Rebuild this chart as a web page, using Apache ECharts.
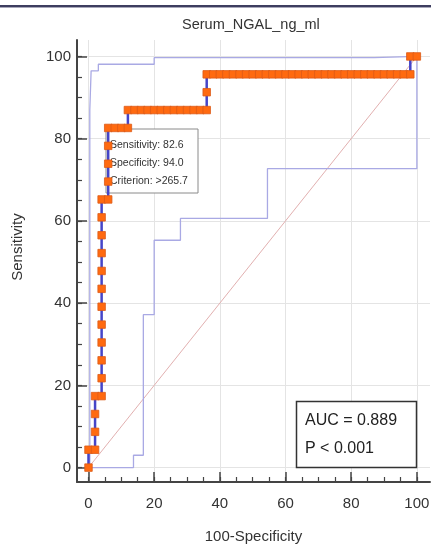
<!DOCTYPE html>
<html>
<head>
<meta charset="utf-8">
<script src="https://cdn.jsdelivr.net/npm/echarts@6/dist/echarts.min.js"></script>
<style>
  html, body { margin: 0; padding: 0; background: #fff; }
  #chart { width: 431px; height: 547px; }
</style>
</head>
<body>
<div id="chart"></div>
<script>
// ROC points (100-Specificity, Sensitivity), one square per cut-off
const rocX = [0, 0, 2, 2, 2, 2, 4, 4, 4, 4, 4, 4, 4, 4, 4, 4, 4, 4,
  6, 6, 6, 6, 6, 8, 10, 12, 12, 14, 16, 18, 20, 22, 24, 26, 28, 30, 32, 34, 36,
  36, 36, 38, 40, 42, 44, 46, 48, 50, 52, 54, 56, 58, 60, 62, 64, 66, 68, 70,
  72, 74, 76, 78, 80, 82, 84, 86, 88, 90, 92, 94, 96, 98, 98, 100];
const rocY = [0, 4.35, 4.35, 8.7, 13.04, 17.39, 17.39, 21.74, 26.09, 30.43, 34.78, 39.13,
  43.48, 47.83, 52.17, 56.52, 60.87, 65.22,
  65.22, 69.57, 73.91, 78.26, 82.61, 82.61, 82.61, 82.61, 86.96, 86.96, 86.96, 86.96,
  86.96, 86.96, 86.96, 86.96, 86.96, 86.96, 86.96, 86.96, 86.96,
  91.3, 95.65, 95.65, 95.65, 95.65, 95.65, 95.65, 95.65, 95.65, 95.65, 95.65, 95.65,
  95.65, 95.65, 95.65, 95.65, 95.65, 95.65, 95.65, 95.65, 95.65, 95.65, 95.65, 95.65,
  95.65, 95.65, 95.65, 95.65, 95.65, 95.65, 95.65, 95.65, 95.65, 100, 100];

// confidence bounds
const upperX = [0.4, 0.4, 0.8, 0.8, 3, 3, 20, 20, 87, 87, 100];
const upperY = [0, 87, 87, 96.5, 96.5, 98.1, 98.1, 99.7, 99.7, 100, 100];
const lowerX = [0, 13.7, 13.7, 16.7, 16.7, 20, 20, 28, 28, 54.5, 54.5, 100, 100];
const lowerY = [0, 0, 3, 3, 37.2, 37.2, 55.3, 55.3, 60.6, 60.6, 72.7, 72.7, 100];

const diagX = [0, 100];
const diagY = [0, 100];

const majorTicks = [0, 20, 40, 60, 80, 100];
const minorTicks = [0, 5, 10, 15, 20, 25, 30, 35, 40, 45, 50, 55, 60, 65, 70, 75, 80, 85, 90, 95, 100];

const infoLines = ["Sensitivity: 82.6", "Specificity: 94.0", "Criterion: >265.7"];
const aucLines = ["AUC = 0.889", "P < 0.001"];

const zip = (xs, ys) => xs.map((x, i) => [x, ys[i]]);

const font = "'Liberation Sans', Arial, sans-serif";
const axisColor = "#444";

function mainAxis(name, gap) {
  return {
    type: "value",
    min: -3.5,
    max: 104,
    name: name,
    nameLocation: "middle",
    nameGap: gap,
    nameTextStyle: { fontSize: 15, color: "#333", fontFamily: font },
    axisLine: { onZero: false, lineStyle: { color: axisColor, width: 2 } },
    axisTick: { inside: true, length: 10, customValues: majorTicks, lineStyle: { color: axisColor, width: 1.5 } },
    axisLabel: { customValues: majorTicks, fontSize: 15, color: "#333", fontFamily: font },
    splitLine: { show: true, lineStyle: { color: "#e4e4e4", width: 1 } }
  };
}

function minorAxis() {
  return {
    type: "value",
    min: -3.5,
    max: 104,
    axisLine: { show: false, onZero: false },
    axisTick: { inside: true, length: 5, customValues: minorTicks, lineStyle: { color: axisColor, width: 1.2 } },
    axisLabel: { show: false },
    splitLine: { show: false }
  };
}

const xMain = mainAxis("100-Specificity", 47);
xMain.position = "bottom";
xMain.axisLabel.margin = 14;
const xMinor = minorAxis();
xMinor.position = "bottom";
const yMain = mainAxis("Sensitivity", 52);
yMain.position = "left";
yMain.axisLabel.margin = 6;
// nudge the rotated name a little above the axis middle
yMain.nameTextStyle.padding = [0, 0, 0, 28];
const yMinor = minorAxis();
yMinor.position = "left";

const chart = echarts.init(document.getElementById("chart"));

chart.setOption({
  animation: false,
  backgroundColor: "#fff",
  title: {
    text: "Serum_NGAL_ng_ml",
    left: 177,
    top: 12,
    textStyle: { fontSize: 14.5, fontWeight: "normal", color: "#333", fontFamily: font }
  },
  grid: { left: 77, right: 1, top: 40, bottom: 65, outerBoundsMode: "none" },
  xAxis: [xMain, xMinor],
  yAxis: [yMain, yMinor],
  series: [
    {
      type: "line",
      data: zip(diagX, diagY),
      showSymbol: false,
      lineStyle: { color: "#e2b0b0", width: 1 },
      z: 2
    },
    {
      type: "line",
      data: zip(upperX, upperY),
      showSymbol: false,
      lineStyle: { color: "#a9a9e4", width: 1.3 },
      z: 3
    },
    {
      type: "line",
      data: zip(lowerX, lowerY),
      showSymbol: false,
      lineStyle: { color: "#a9a9e4", width: 1.3 },
      z: 3
    },
    {
      type: "line",
      data: zip(rocX, rocY),
      symbol: "rect",
      symbolSize: 7.5,
      showAllSymbol: true,
      lineStyle: { color: "#4545c8", width: 2.5 },
      itemStyle: { color: "#ff6a10", borderColor: "#dc5a18", borderWidth: 0.8 },
      z: 5
    }
  ],
  graphic: [
    { type: "rect", shape: { x: 0, y: 5, width: 431, height: 2 }, style: { fill: "#3d3d5f" }, z: 10 },
    { type: "rect", shape: { x: 0, y: 7, width: 431, height: 1 }, style: { fill: "#a8a8ba" }, z: 10 },
    {
      type: "rect",
      shape: { x: 106, y: 129, width: 92, height: 64 },
      style: { fill: "#fff", stroke: "#8a8a8a", lineWidth: 1 },
      z: 1
    },
    ...infoLines.map((t, i) => ({
      type: "text",
      x: 110,
      y: 145.5 + i * 17.8,
      style: { text: t, fontSize: 10.5, fill: "#333", fontFamily: font, textVerticalAlign: "middle" },
      z: 1
    })),
    {
      type: "rect",
      shape: { x: 296.5, y: 401.5, width: 120, height: 66 },
      style: { fill: "#fff", stroke: "#333", lineWidth: 1.5 },
      z: 6
    },
    ...aucLines.map((t, i) => ({
      type: "text",
      x: 305,
      y: 421 + i * 28,
      style: { text: t, fontSize: 16, fill: "#222", fontFamily: font, textVerticalAlign: "middle" },
      z: 6
    }))
  ]
});
</script>
</body>
</html>
